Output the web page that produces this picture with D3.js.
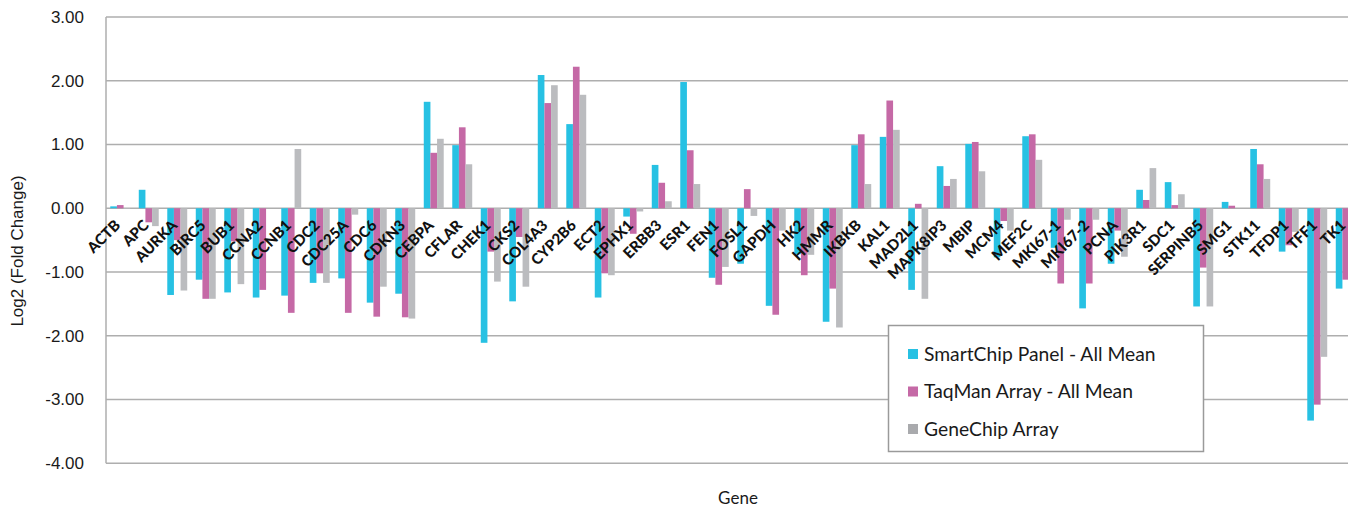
<!DOCTYPE html>
<html>
<head>
<meta charset="utf-8">
<script src="https://cdn.jsdelivr.net/npm/d3@7"></script>
<style>
  body { margin: 0; background: #fff; }
  #chart { width: 1348px; height: 508px; }
</style>
</head>
<body>
<div id="chart"></div>
<script>
// Data
const genes = ["ACTB", "APC", "AURKA", "BIRC5", "BUB1", "CCNA2", "CCNB1", "CDC2", "CDC25A", "CDC6",
    "CDKN3", "CEBPA", "CFLAR", "CHEK1", "CKS2", "COL4A3", "CYP2B6", "ECT2", "EPHX1", "ERBB3",
    "ESR1", "FEN1", "FOSL1", "GAPDH", "HK2", "HMMR", "IKBKB", "KAL1", "MAD2L1", "MAPK8IP3",
    "MBIP", "MCM4", "MEF2C", "MKI67-1", "MKI67-2", "PCNA", "PIK3R1", "SDC1", "SERPINB5", "SMG1",
    "STK11", "TFDP1", "TFF1", "TK1"];

const seriesNames = ["SmartChip Panel - All Mean", "TaqMan Array - All Mean", "GeneChip Array"];

const smartChip = [0.03, 0.29, -1.36, -1.12, -1.32, -1.40, -1.37, -1.17, -1.10, -1.48,
    -1.34, 1.67, 0.99, -2.11, -1.46, 2.09, 1.32, -1.40, -0.13, 0.68,
    1.98, -1.09, -0.87, -1.53, -0.72, -1.78, 0.99, 1.12, -1.28, 0.66,
    1.01, -0.77, 1.13, -0.62, -1.57, -0.87, 0.29, 0.41, -1.54, 0.10,
    0.93, -0.68, -3.33, -1.26];

const taqMan = [0.05, -0.22, -0.50, -1.42, -0.52, -1.28, -1.64, -1.02, -1.64, -1.70,
    -1.71, 0.87, 1.27, -0.68, -0.45, 1.65, 2.22, -1.02, -0.40, 0.40,
    0.91, -1.20, 0.30, -1.67, -1.05, -1.26, 1.16, 1.69, 0.07, 0.35,
    1.04, -0.20, 1.16, -1.18, -1.18, -0.35, 0.13, 0.05, -0.93, 0.04,
    0.69, -0.58, -3.08, -1.12];

const geneChip = [-0.01, -0.28, -1.29, -1.42, -1.19, 0, 0.93, -1.17, -0.10, -1.23,
    -1.73, 1.09, 0.69, -1.15, -1.23, 1.93, 1.78, -1.05, -0.05, 0.11,
    0.38, -0.92, -0.12, -0.35, -0.73, -1.87, 0.38, 1.23, -1.42, 0.46,
    0.58, -0.35, 0.76, -0.18, -0.18, -0.76, 0.63, 0.22, -1.54, 0,
    0.46, -0.37, -2.33, 0];

const yTicks = [3, 2, 1, 0, -1, -2, -3, -4];

const colors = ["#27c1e3", "#c569a6", "#bbbcbf"];
const legendColors = ["#27c1e3", "#c569a6", "#a9aaad"];

// build rows for the grouped bars
const seriesValues = [smartChip, taqMan, geneChip];
const rows = genes.map((g, i) => ({
    gene: g,
    values: seriesNames.map((s, k) => ({series: s, value: seriesValues[k][i]}))
}));

const width = 1348, height = 508;
const margin = {top: 17, left: 106};
const plotRight = 1360;   // the plot runs past the right edge of the picture
const plotBottom = 463.3;

const svg = d3.select("#chart").append("svg")
    .attr("width", width)
    .attr("height", height);

const x = d3.scaleBand()
    .domain(genes)
    .range([margin.left, plotRight])
    .paddingInner(0.3)
    .paddingOuter(0.15);

const xSeries = d3.scaleBand()
    .domain(seriesNames)
    .range([0, x.bandwidth()]);

const y = d3.scaleLinear()
    .domain([-4, 3])
    .range([plotBottom, margin.top]);

const color = d3.scaleOrdinal().domain(seriesNames).range(colors);

// gridlines
svg.append("g")
    .selectAll("line")
    .data(yTicks)
    .join("line")
    .attr("x1", margin.left)
    .attr("x2", width)
    .attr("y1", d => y(d))
    .attr("y2", d => y(d))
    .attr("stroke", "#aeaeae")
    .attr("stroke-width", 1.5);

// left axis line
svg.append("line")
    .attr("x1", margin.left).attr("x2", margin.left)
    .attr("y1", y(3)).attr("y2", y(-4))
    .attr("stroke", "#aeaeae")
    .attr("stroke-width", 1.5);

// y tick labels (plain hyphen for negatives, like the reference)
svg.append("g")
    .selectAll("text")
    .data(yTicks)
    .join("text")
    .attr("x", 84)
    .attr("y", d => y(d))
    .attr("dy", "0.35em")
    .attr("text-anchor", "end")
    .attr("font-family", "'Liberation Sans', Arial, sans-serif")
    .attr("font-size", 17)
    .attr("fill", "#1a1a1a")
    .text(d => d.toFixed(2));

// bars
svg.append("g")
    .selectAll("g")
    .data(rows)
    .join("g")
    .attr("transform", d => `translate(${x(d.gene)},0)`)
    .selectAll("rect")
    .data(d => d.values)
    .join("rect")
    .attr("x", d => xSeries(d.series))
    .attr("width", xSeries.bandwidth())
    .attr("y", d => y(Math.max(0, d.value)))
    .attr("height", d => Math.abs(y(d.value) - y(0)))
    .attr("fill", d => color(d.series));

// gene labels, rotated
svg.append("g")
    .selectAll("text")
    .data(genes)
    .join("text")
    .attr("transform", d => `translate(${x(d) + x.bandwidth() / 2 + 1},${y(0) + 18}) rotate(-45)`)
    .attr("text-anchor", "end")
    .attr("font-family", "Lato, 'Open Sans', sans-serif")
    .attr("font-weight", 900)
    .attr("font-size", 15)
    .attr("fill", "#111")
    .text(d => d);

// axis titles
svg.append("text")
    .attr("transform", `translate(23,251) rotate(-90)`)
    .attr("text-anchor", "middle")
    .attr("font-family", "'Liberation Sans', Arial, sans-serif")
    .attr("font-size", 17)
    .attr("fill", "#1a1a1a")
    .text("Log2 (Fold Change)");

svg.append("text")
    .attr("x", 738)
    .attr("y", 504)
    .attr("text-anchor", "middle")
    .attr("font-family", "Lato, sans-serif")
    .attr("font-size", 17)
    .attr("fill", "#1a1a1a")
    .text("Gene");

// legend
const legend = svg.append("g");
legend.append("rect")
    .attr("x", 888.5).attr("y", 325.5)
    .attr("width", 315).attr("height", 126)
    .attr("fill", "#fff")
    .attr("stroke", "#9a9a9a")
    .attr("stroke-width", 1.5);

const legendRows = legend.selectAll("g.item")
    .data(seriesNames)
    .join("g")
    .attr("class", "item")
    .attr("transform", (d, i) => `translate(908,${354 + i * 37.5})`);

legendRows.append("rect")
    .attr("x", 0).attr("y", -5)
    .attr("width", 10).attr("height", 10)
    .attr("fill", (d, i) => legendColors[i]);

legendRows.append("text")
    .attr("x", 16)
    .attr("dy", "0.35em")
    .attr("font-family", "Lato, sans-serif")
    .attr("font-size", 19.3)
    .attr("fill", "#1a1a1a")
    .text(d => d);
</script>
</body>
</html>
